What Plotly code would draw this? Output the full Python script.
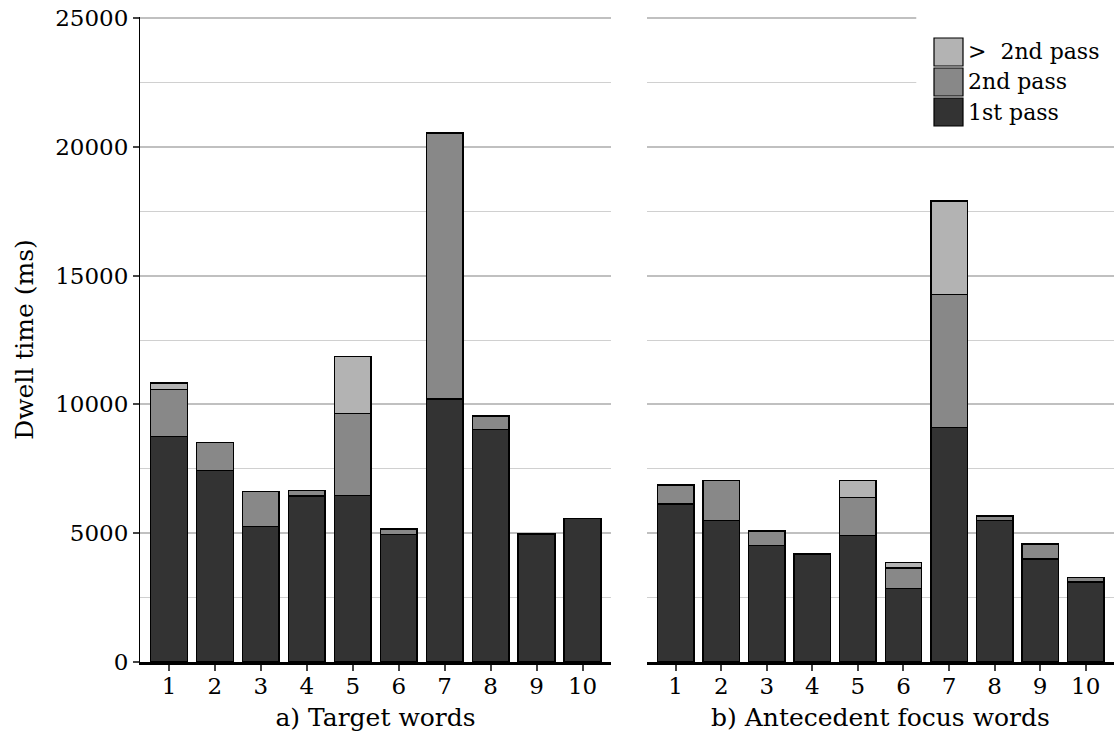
import plotly.graph_objects as go

# word positions
words = list(range(1, 11))

# a) Target words - dwell time (ms)
target_first = [8750, 7440, 5270, 6450, 6470, 4950, 10210, 9020, 4975, 5570]
target_second = [1820, 1090, 1350, 200, 3180, 220, 10320, 540, 0, 0]
target_more = [260, 0, 0, 0, 2210, 0, 0, 0, 0, 0]

# b) Antecedent focus words - dwell time (ms)
antec_first = [6140, 5490, 4520, 4200, 4910, 2860, 9110, 5490, 4005, 3100]
antec_second = [730, 1550, 570, 0, 1470, 790, 5150, 170, 570, 180]
antec_more = [0, 0, 0, 0, 670, 210, 3640, 0, 0, 0]

series_names = ["1st pass", "2nd pass", ">  2nd pass"]
series_colors = ["#333333", "#888888", "#b3b3b3"]

FONT = "DejaVu Serif"

fig = go.Figure()

panels = [
    ("x", "y", [target_first, target_second, target_more]),
    ("x2", "y2", [antec_first, antec_second, antec_more]),
]
for xa, ya, stacks in panels:
    for name, color, vals in zip(series_names, series_colors, stacks):
        fig.add_trace(go.Bar(
            x=words, y=vals, name=name, xaxis=xa, yaxis=ya,
            width=0.8, showlegend=False,
            marker=dict(color=color, line=dict(color="black", width=1.5)),
        ))

xaxis_common = dict(
    range=[0.37, 10.62], tickvals=words, ticks="outside", ticklen=6,
    tickwidth=2, tickcolor="#444", showline=True, linecolor="black",
    linewidth=2.5, showgrid=False, zeroline=False, automargin=False,
    ticklabelstandoff=-4,
    tickfont=dict(family=FONT, size=23, color="black"),
)
yaxis_common = dict(
    range=[0, 25040], tickvals=[0, 5000, 10000, 15000, 20000, 25000],
    tickformat="d", showgrid=True, ticklabeloverflow="allow", automargin=False,
    gridcolor="#c0c0c0", gridwidth=2, zeroline=False,
    minor=dict(dtick=2500, showgrid=True, gridcolor="#d0d0d0", gridwidth=1),
)

fig.update_layout(
    barmode="stack",
    width=1114, height=737,
    margin=dict(l=140, r=0, t=17, b=75, autoexpand=False),
    plot_bgcolor="white", paper_bgcolor="white",
    font=dict(family=FONT, color="black"),
    xaxis=dict(domain=[0, 0.4836], anchor="y",
               title=dict(text="a) Target words", font=dict(family=FONT, size=25), standoff=11),
               **xaxis_common),
    xaxis2=dict(domain=[0.5205, 1], anchor="y2",
                title=dict(text="b) Antecedent focus words", font=dict(family=FONT, size=25), standoff=11),
                **xaxis_common),
    yaxis=dict(anchor="x", showline=True, linecolor="black", linewidth=1,
               ticks="outside", ticklen=6, tickwidth=2, tickcolor="#444",
               tickfont=dict(family=FONT, size=23, color="black"),
               title=dict(text="Dwell time (ms)", font=dict(family=FONT, size=25), standoff=14),
               **yaxis_common),
    yaxis2=dict(anchor="x2", matches="y", showline=False, showticklabels=False,
                ticks="", **yaxis_common),
)

# legend drawn as boxes in the top-right corner of panel b
shapes = [dict(type="rect", xref="paper", yref="paper", x0=0.797, x1=1.0,
               y0=0.80, y1=1.03, fillcolor="white", line=dict(width=0), layer="above")]
annotations = []
legend_items = list(zip(series_names, series_colors))[::-1]
top_px = 38
box_h = 30
for i, (name, color) in enumerate(legend_items):
    y_top = top_px + i * box_h
    y1 = 1 - (y_top - 17) / 645
    y0 = 1 - (y_top + box_h - 2 - 17) / 645
    shapes.append(dict(type="rect", xref="paper", yref="paper",
                       x0=(934 - 140) / 974, x1=(963 - 140) / 974, y0=y0, y1=y1,
                       fillcolor=color, line=dict(color="black", width=1.2), layer="above"))
    annotations.append(dict(xref="paper", yref="paper", x=(966 - 140) / 974, y=(y0 + y1) / 2,
                            text=name, showarrow=False, xanchor="left", yanchor="middle",
                            font=dict(family=FONT, size=22, color="black")))
fig.update_layout(shapes=shapes, annotations=annotations)

# drop the default body margin so the figure sits at the page corner
fig.write_html("out.html", config={"displayModeBar": False},
               post_script="document.body.style.margin='0';")
